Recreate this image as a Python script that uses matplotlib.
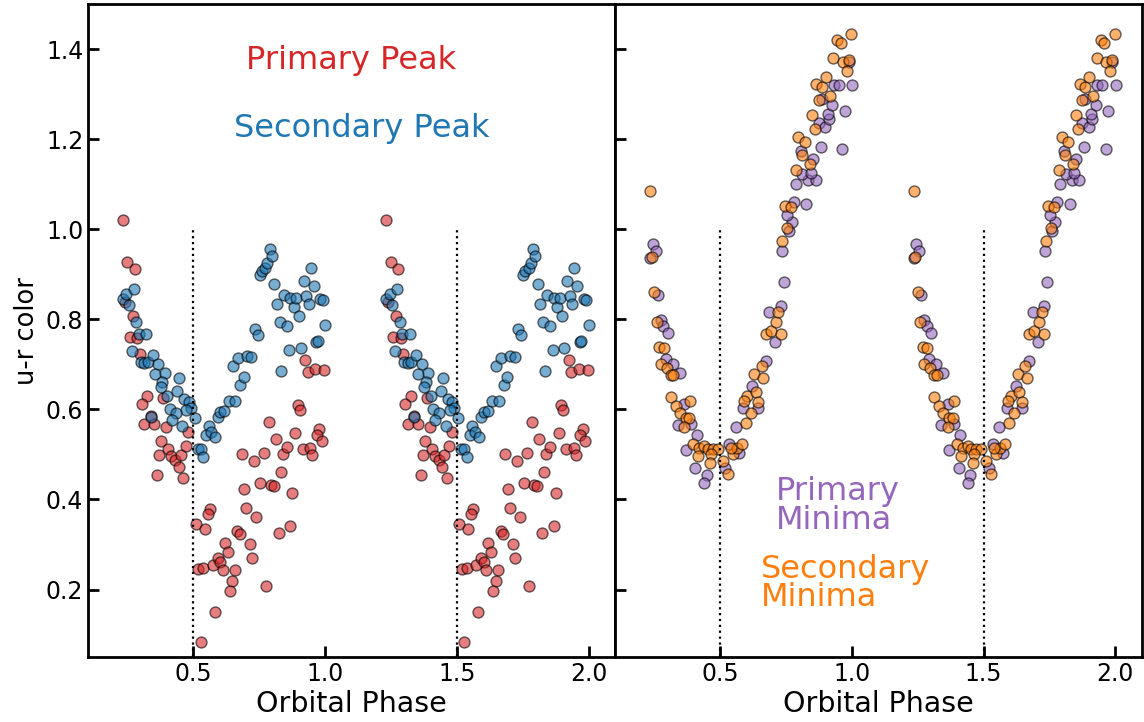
import numpy as np
import matplotlib
matplotlib.use("Agg")
import matplotlib.pyplot as plt

# phase / u-r colour (one cycle, plotted twice)
peak1_phase = [0.232, 0.249, 0.278, 0.239, 0.270, 0.259, 0.287, 0.297, 0.325, 0.304,
               0.337, 0.314, 0.352, 0.385, 0.397, 0.378, 0.405, 0.370, 0.416, 0.431,
               0.451, 0.444, 0.363, 0.462, 0.480, 0.470, 0.509, 0.544, 0.562, 0.554,
               0.518, 0.537, 0.573, 0.592, 0.602, 0.611, 0.620, 0.630, 0.658, 0.648,
               0.639, 0.581, 0.527, 0.667, 0.677, 0.693, 0.701, 0.739, 0.713, 0.722,
               0.684, 0.730, 0.766, 0.785, 0.812, 0.754, 0.794, 0.804, 0.831, 0.876,
               0.823, 0.867, 0.775, 0.840, 0.855, 0.886, 0.916, 0.943, 0.951, 0.897,
               0.904, 0.925, 0.933, 0.962, 0.996, 0.977, 0.969, 0.988]
peak1_color = [1.020, 0.928, 0.911, 0.838, 0.808, 0.762, 0.758, 0.723, 0.630, 0.612,
               0.586, 0.567, 0.567, 0.625, 0.560, 0.529, 0.512, 0.499, 0.497, 0.487,
               0.499, 0.472, 0.455, 0.448, 0.549, 0.519, 0.345, 0.334, 0.378, 0.367,
               0.245, 0.248, 0.254, 0.271, 0.262, 0.243, 0.304, 0.284, 0.243, 0.219,
               0.196, 0.151, 0.083, 0.329, 0.324, 0.424, 0.382, 0.361, 0.300, 0.269,
               0.502, 0.486, 0.504, 0.572, 0.534, 0.436, 0.432, 0.429, 0.461, 0.415,
               0.325, 0.340, 0.208, 0.500, 0.516, 0.547, 0.512, 0.515, 0.498, 0.610,
               0.599, 0.709, 0.684, 0.690, 0.688, 0.556, 0.543, 0.530]

peak2_phase = [0.232, 0.245, 0.274, 0.255, 0.283, 0.293, 0.321, 0.265, 0.299, 0.314,
               0.327, 0.346, 0.366, 0.353, 0.391, 0.381, 0.375, 0.400, 0.447, 0.438,
               0.466, 0.482, 0.489, 0.473, 0.410, 0.432, 0.418, 0.337, 0.457, 0.505,
               0.516, 0.527, 0.537, 0.558, 0.549, 0.568, 0.583, 0.592, 0.602, 0.617,
               0.634, 0.659, 0.678, 0.691, 0.649, 0.669, 0.703, 0.720, 0.732, 0.744,
               0.751, 0.760, 0.773, 0.781, 0.789, 0.798, 0.807, 0.817, 0.827, 0.842,
               0.855, 0.867, 0.880, 0.890, 0.900, 0.918, 0.928, 0.938, 0.946, 0.956,
               0.981, 0.991, 1.001, 0.966, 0.972, 0.908, 0.864, 0.834]
peak2_color = [0.845, 0.857, 0.868, 0.832, 0.795, 0.768, 0.767, 0.730, 0.705, 0.703,
               0.706, 0.722, 0.700, 0.679, 0.680, 0.661, 0.649, 0.630, 0.669, 0.641,
               0.624, 0.617, 0.604, 0.598, 0.601, 0.592, 0.576, 0.584, 0.564, 0.582,
               0.512, 0.512, 0.495, 0.564, 0.544, 0.549, 0.539, 0.584, 0.595, 0.597,
               0.619, 0.619, 0.655, 0.673, 0.696, 0.715, 0.719, 0.716, 0.779, 0.765,
               0.899, 0.907, 0.914, 0.925, 0.957, 0.942, 0.879, 0.834, 0.794, 0.855,
               0.786, 0.848, 0.827, 0.847, 0.808, 0.885, 0.853, 0.834, 0.914, 0.874,
               0.845, 0.844, 0.788, 0.749, 0.751, 0.737, 0.733, 0.685]

min1_phase = [0.244, 0.256, 0.235, 0.263, 0.275, 0.284, 0.300, 0.294, 0.319, 0.347,
              0.364, 0.338, 0.389, 0.410, 0.370, 0.405, 0.448, 0.439, 0.519, 0.534,
              0.559, 0.572, 0.587, 0.622, 0.645, 0.673, 0.686, 0.708, 0.730, 0.742,
              0.734, 0.761, 0.771, 0.753, 0.780, 0.827, 0.789, 0.834, 0.862, 0.812,
              0.844, 0.852, 0.806, 0.881, 0.963, 0.875, 0.898, 0.913, 0.909, 0.925,
              0.972, 0.885, 0.932, 0.951, 1.001, 0.989]
min1_color = [0.968, 0.951, 0.936, 0.854, 0.799, 0.786, 0.770, 0.712, 0.701, 0.681,
              0.612, 0.565, 0.567, 0.544, 0.510, 0.471, 0.455, 0.436, 0.471, 0.523,
              0.562, 0.504, 0.604, 0.653, 0.604, 0.708, 0.816, 0.749, 0.829, 0.883,
              0.953, 0.997, 1.016, 1.031, 1.061, 1.057, 1.101, 1.109, 1.109, 1.123,
              1.126, 1.157, 1.175, 1.183, 1.179, 1.237, 1.227, 1.246, 1.257, 1.277,
              1.264, 1.290, 1.321, 1.321, 1.320, 1.372]

min2_phase = [0.234, 0.240, 0.250, 0.259, 0.269, 0.285, 0.275, 0.298, 0.313, 0.322,
              0.313, 0.332, 0.347, 0.386, 0.370, 0.383, 0.364, 0.398, 0.420, 0.439,
              0.452, 0.471, 0.490, 0.414, 0.465, 0.461, 0.509, 0.528, 0.547, 0.563,
              0.582, 0.540, 0.597, 0.616, 0.603, 0.635, 0.591, 0.645, 0.629, 0.664,
              0.658, 0.673, 0.692, 0.711, 0.730, 0.721, 0.736, 0.755, 0.745, 0.768,
              0.787, 0.809, 0.797, 0.821, 0.841, 0.850, 0.859, 0.865, 0.885, 0.900,
              0.875, 0.916, 0.929, 0.944, 0.957, 0.997, 0.966, 0.989, 0.980]
min2_color = [1.086, 0.938, 0.862, 0.794, 0.738, 0.736, 0.702, 0.691, 0.677, 0.676,
              0.627, 0.608, 0.591, 0.618, 0.582, 0.581, 0.562, 0.524, 0.515, 0.519,
              0.512, 0.512, 0.512, 0.497, 0.501, 0.480, 0.486, 0.456, 0.501, 0.515,
              0.523, 0.515, 0.569, 0.593, 0.630, 0.638, 0.619, 0.616, 0.679, 0.670,
              0.697, 0.768, 0.775, 0.794, 0.768, 0.817, 0.975, 1.003, 1.051, 1.049,
              1.132, 1.166, 1.205, 1.195, 1.146, 1.255, 1.224, 1.324, 1.316, 1.339,
              1.287, 1.296, 1.381, 1.420, 1.415, 1.435, 1.372, 1.376, 1.351]

phase_ticks = [0.5, 1.0, 1.5, 2.0]
color_ticks = [0.2, 0.4, 0.6, 0.8, 1.0, 1.2, 1.4]


def twice(ph, col):
    ph = np.asarray(ph)
    col = np.asarray(col)
    return np.concatenate([ph, ph + 1]), np.concatenate([col, col])


def scatter(ax, ph, col, c):
    x, y = twice(ph, col)
    ax.scatter(x, y, s=62, c=c, alpha=0.6, edgecolors='black', linewidths=1.0)


fig, (ax1, ax2) = plt.subplots(1, 2, figsize=(11.44, 7.22), dpi=100, sharey=True)
fig.subplots_adjust(left=0.077, right=0.998, top=0.994, bottom=0.09, wspace=0)

scatter(ax1, peak1_phase, peak1_color, 'tab:red')
scatter(ax1, peak2_phase, peak2_color, 'tab:blue')
scatter(ax2, min1_phase, min1_color, 'tab:purple')
scatter(ax2, min2_phase, min2_color, 'tab:orange')

for ax in (ax1, ax2):
    ax.vlines([0.5, 1.5], 0.0, 1.0, colors='black', linestyles='dotted', linewidth=1.6)
    ax.set_xlim(0.1, 2.1)
    ax.set_ylim(0.05, 1.5)
    ax.set_xticks(phase_ticks)
    ax.set_yticks(color_ticks)
    ax.tick_params(direction='in', length=8, width=2, labelsize=17)
    for sp in ax.spines.values():
        sp.set_linewidth(2)
    ax.set_xlabel('Orbital Phase', fontsize=20.5, labelpad=3)

ax1.set_ylabel('u-r color', fontsize=18.5)
ax2.tick_params(labelleft=False)

ax1.text(1.10, 1.375, 'Primary Peak', color='tab:red', fontsize=23,
         ha='center', va='center')
ax1.text(1.14, 1.224, 'Secondary Peak', color='tab:blue', fontsize=23,
         ha='center', va='center')
ax2.text(0.71, 0.385, 'Primary\nMinima', color='tab:purple', fontsize=23,
         ha='left', va='center', linespacing=0.9)
ax2.text(0.655, 0.213, 'Secondary\nMinima', color='tab:orange', fontsize=23,
         ha='left', va='center', linespacing=0.9)

fig.savefig('out.png', dpi=100)
